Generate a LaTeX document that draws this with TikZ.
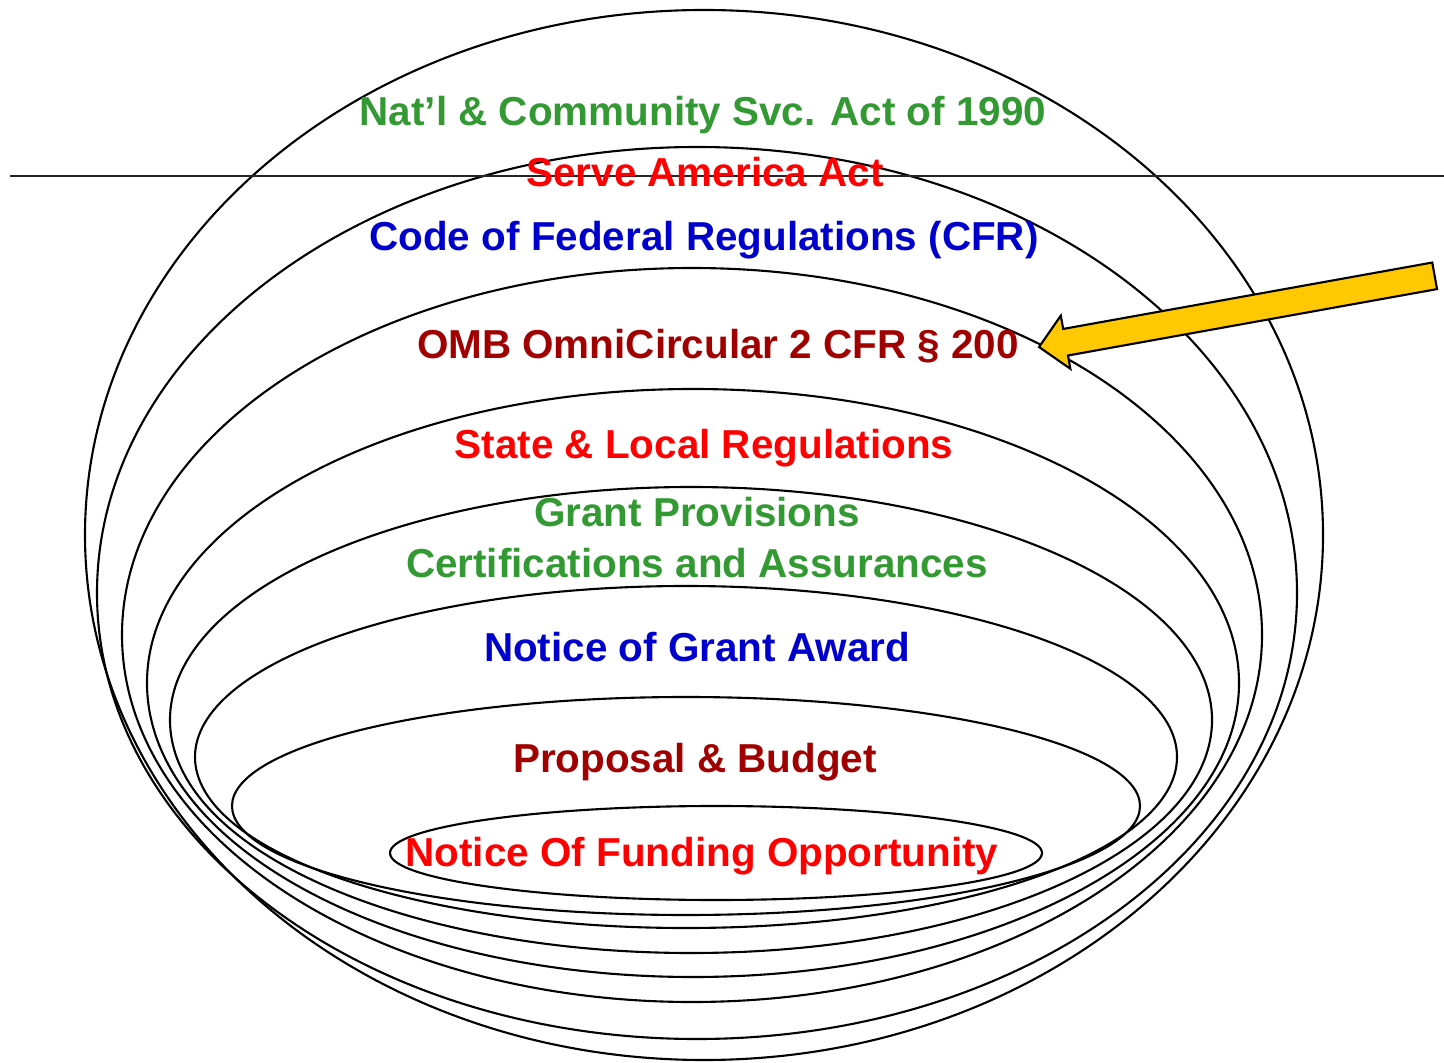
\documentclass[tikz,border=0pt]{standalone}
\usepackage{fontspec}
\setmainfont{Liberation Sans}
\usepackage{xcolor}
\definecolor{actgreen}{RGB}{51,153,51}
\definecolor{actred}{RGB}{255,0,0}
\definecolor{regblue}{RGB}{0,0,204}
\definecolor{ombred}{RGB}{160,0,0}
\definecolor{arrowgold}{RGB}{255,200,0}
\newcommand{\lblfont}{\fontsize{11.5}{14.5}\selectfont\bfseries}
\tikzset{
  ring/.style={draw=black, line width=0.6pt},
  lbl/.style={font=\lblfont, anchor=base, inner sep=0pt, align=center}
}

\begin{document}
\begin{tikzpicture}
  \useasboundingbox (0,0) rectangle (14.44,-10.63);
  \draw[ring] (7.04,-5.35) ellipse [x radius=6.19, y radius=5.25];
  \draw[ring] (6.97,-5.93) ellipse [x radius=6.00, y radius=4.46];
  \draw[ring] (6.92,-6.35) ellipse [x radius=5.70, y radius=3.67];
  \draw[ring] (6.93,-6.83) ellipse [x radius=5.46, y radius=2.94];
  \draw[ring] (6.91,-7.20) ellipse [x radius=5.21, y radius=2.33];
  \draw[ring] (6.86,-7.57) ellipse [x radius=4.91, y radius=1.71];
  \draw[ring] (6.86,-8.06) ellipse [x radius=4.54, y radius=1.09];
  \draw[ring] (7.16,-8.53) ellipse [x radius=3.26, y radius=0.47];
  \draw[line width=0.7pt, black!85] (0.10,-1.76) -- (14.44,-1.76);

  \node[lbl, text=actgreen] (natl) at (7.03,-1.26) {Nat'l \& Community Svc. Act of 1990};
  \node[lbl, text=actred] (serve) at (7.05,-1.87) {Serve America Act};
  \node[lbl, text=regblue] (cfr) at (7.04,-2.51) {Code of Federal Regulations (CFR)};
  \node[lbl, text=ombred] (omb) at (7.18,-3.59) {OMB OmniCircular 2 CFR § 200};
  \node[lbl, text=actred] (state) at (7.04,-4.59) {State \& Local Regulations};
  \node[lbl, text=actgreen] (grant) at (6.97,-5.77) {Grant Provisions\\Certifications and Assurances};
  \node[lbl, text=regblue] (nga) at (6.97,-6.61) {Notice of Grant Award};
  \node[lbl, text=ombred] (proposal) at (6.95,-7.72) {Proposal \& Budget};
  \node[lbl, text=actred] (nofo) at (7.02,-8.66) {Notice Of Funding Opportunity};

  \coordinate (tip) at (10.39,-3.47);
  \draw[fill=arrowgold, line width=0.6pt, shift={(tip)}, rotate=10.2]
    (0,0) -- (0.27,0.27) -- (0.27,0.135) -- (4.02,0.135) -- (4.02,-0.135)
    -- (0.27,-0.135) -- (0.27,-0.27) -- cycle;
\end{tikzpicture}
\end{document}
